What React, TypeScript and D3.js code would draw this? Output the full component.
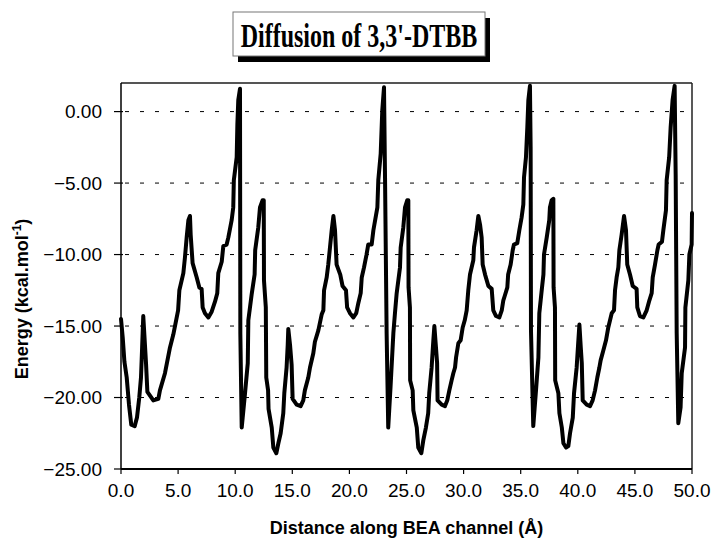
import React from "react";
import * as d3 from "d3";

const distance: number[] = [
  0, 0.15, 0.3, 0.5, 0.7, 0.9, 1.2, 1.4, 1.6, 1.75, 1.85, 1.95,
  2.19, 2.31, 2.83, 3.27, 3.41, 3.85, 4.29, 4.58, 5.0, 5.11, 5.46, 5.6, 5.75, 5.9, 6.04, 6.1, 6.27, 6.63, 6.86, 7.06, 7.15, 7.35, 7.65, 7.94, 8.23, 8.43, 8.52, 8.82, 8.96, 9.25, 9.4, 9.69, 9.83, 9.88, 10.13, 10.19, 10.27, 10.42,
  10.45, 10.57, 10.86, 11.1, 11.15, 11.44, 11.7, 11.75, 12.02, 12.17, 12.4, 12.5, 12.52, 12.68, 12.72, 12.88, 12.92, 13.2, 13.34, 13.6, 13.78, 13.98, 14.21, 14.3, 14.5, 14.6, 14.65, 14.8, 14.94, 15.03, 15.38, 15.73, 15.96, 16.1, 16.4, 16.55, 16.84, 16.98, 17.28, 17.57, 17.72, 17.78, 18.01, 18.15, 18.3, 18.45, 18.6, 18.74, 18.88, 19.2, 19.4, 19.7, 19.8, 20.05, 20.35, 20.6, 20.78, 20.99, 21.08, 21.28, 21.5, 21.65, 21.95, 22.1, 22.45, 22.53, 22.74, 22.88, 23.03,
  23.12, 23.26, 23.4, 23.6, 23.85, 23.99, 24.14, 24.43, 24.49, 24.72, 24.87, 25.07, 25.16, 25.18, 25.3, 25.32, 25.54, 25.6, 25.9, 26.03, 26.3, 26.47, 26.7, 26.9, 26.99, 27.2, 27.35, 27.44, 27.58, 27.68, 27.72, 28.08, 28.37, 28.57, 28.75, 28.95, 29.1, 29.25, 29.34, 29.54, 29.74, 29.92, 30.1, 30.27, 30.41, 30.56, 30.85, 30.91, 31.14, 31.29, 31.44, 31.58, 31.67, 31.88, 32.17, 32.46, 32.6, 32.84, 33.13, 33.34, 33.48, 33.6, 33.83, 33.9, 34.12, 34.3, 34.41, 34.7, 34.88, 35.08, 35.23, 35.29, 35.46, 35.58, 35.67, 35.81,
  35.87, 35.9, 36.1, 36.34, 36.55, 36.63, 36.84, 36.99, 37.04, 37.28, 37.5, 37.56, 37.71, 37.86, 37.88, 38.0, 38.02, 38.3, 38.39, 38.6, 38.74, 38.97, 39.17, 39.32, 39.56, 39.67, 39.9, 40.05, 40.14, 40.26, 40.35, 40.43, 40.78, 41.07, 41.3, 41.51, 41.71, 41.89, 42.0, 42.24, 42.47, 42.67, 42.97, 43.17, 43.26, 43.4, 43.55, 43.64, 43.84, 44.05, 44.22, 44.33, 44.57, 44.81, 45.15, 45.21, 45.44, 45.74, 46.03, 46.27, 46.47, 46.56, 46.76, 46.97, 47.08, 47.37, 47.49, 47.72, 47.78, 48.0, 48.13, 48.3, 48.48,
  48.57, 48.66, 48.8, 49.0, 49.1, 49.39, 49.42, 49.68, 49.77, 49.97, 50.0,
];

const energy: number[] = [
  -14.5, -15.8, -17.5, -18.6, -20.5, -21.9, -22.0, -21.4, -20.0, -18.6, -16.5, -14.3,
  -17.6, -19.6, -20.2, -20.1, -19.5, -18.3, -16.5, -15.6, -13.9, -12.5, -11.3, -10.2, -8.8, -7.6, -7.3, -8.6, -10.6, -11.6, -12.3, -12.4, -13.7, -14.1, -14.4, -14.0, -13.3, -12.7, -11.3, -10.5, -9.4, -9.3, -8.8, -7.6, -6.7, -4.8, -3.2, -0.9, 0.8, 1.6,
  -15.5, -22.1, -19.7, -17.6, -14.6, -12.8, -11.4, -9.7, -8.1, -6.7, -6.2, -6.2, -11.8, -13.7, -18.6, -19.5, -20.8, -22.1, -23.5, -23.9, -23.2, -22.5, -21.1, -19.7, -17.9, -16.3, -15.2, -16.3, -17.7, -20.1, -20.5, -20.6, -20.2, -19.5, -18.6, -17.9, -16.9, -16.1, -15.3, -14.2, -13.9, -12.5, -11.6, -10.7, -9.5, -8.3, -7.3, -8.3, -10.7, -11.4, -12.2, -12.5, -13.7, -14.1, -14.4, -14.1, -13.4, -12.7, -11.6, -10.9, -10.0, -9.3, -9.3, -8.3, -6.7, -4.8, -2.95, 0.1, 1.7,
  -4.6, -15.5, -22.1, -19.3, -15.5, -14.1, -12.7, -10.9, -9.5, -8.1, -6.7, -6.2, -6.2, -12.3, -13.7, -18.8, -19.5, -20.9, -22.1, -23.5, -23.9, -23.0, -22.1, -21.1, -19.7, -17.9, -16.0, -15.0, -16.5, -17.6, -20.2, -20.5, -20.6, -20.2, -19.5, -18.8, -18.3, -17.9, -17.2, -16.2, -16.0, -15.1, -14.6, -13.9, -12.5, -11.4, -10.4, -9.5, -8.3, -7.3, -7.9, -8.8, -10.7, -11.4, -12.2, -12.4, -13.9, -14.3, -14.4, -13.9, -13.2, -12.9, -12.3, -11.4, -10.7, -9.7, -9.3, -9.2, -8.3, -7.4, -6.5, -4.6, -3.2, -1.1, 0.8, 1.8,
  -2.5, -15.3, -22.0, -19.5, -17.2, -14.1, -12.5, -11.4, -10.0, -8.8, -7.6, -6.7, -6.2, -6.1, -12.3, -13.7, -18.8, -19.7, -21.1, -22.1, -23.2, -23.5, -23.4, -22.5, -21.4, -19.7, -17.9, -16.0, -14.9, -16.5, -17.6, -20.2, -20.5, -20.6, -20.2, -19.5, -18.6, -17.9, -17.4, -16.7, -16.0, -15.1, -14.1, -13.9, -12.5, -11.6, -10.9, -9.7, -8.6, -7.3, -8.3, -10.7, -11.4, -12.2, -12.4, -13.7, -14.3, -14.4, -13.9, -13.2, -12.7, -11.6, -10.7, -9.7, -9.3, -9.1, -8.3, -6.9, -4.8, -3.2, -1.1, 0.8, 1.8,
  -4.4, -15.5, -21.8, -20.7, -18.3, -16.5, -13.7, -11.8, -10.0, -9.3, -7.1,
];

const xTicks: number[] = [0, 5, 10, 15, 20, 25, 30, 35, 40, 45, 50];
const yTicks: number[] = [0, -5, -10, -15, -20, -25];

const chartTitle = "Diffusion of 3,3'-DTBB";
const xTitle = "Distance along BEA channel (Å)";

export default function App() {
  const W = 711, H = 544;
  const left = 121, right = 692, top = 83, bottom = 469;
  const x = d3.scaleLinear().domain([0, 50]).range([left, right]);
  const y = d3.scaleLinear().domain([-25, 2]).range([bottom, top]);
  const pts: [number, number][] = distance.map((d, i) => [d, energy[i]]);
  const line = d3.line<[number, number]>().x(d => x(d[0])).y(d => y(d[1]));
  const fmtY = d3.format(".2f");
  const fmtX = d3.format(".1f");
  const font = "'Liberation Sans', Arial, Helvetica, sans-serif";

  return (
    <svg width={W} height={H} style={{ position: "absolute", left: 0, top: 0, background: "#fff" }}>
      <rect x={0} y={0} width={W} height={H} fill="#fff" />
      {/* title box */}
      <rect x={238} y={18} width={252} height={44} fill="#000" />
      <rect x={233} y={12} width={252} height={44} fill="#fff" stroke="#777" strokeWidth={1} />
      <text transform="translate(359,47) scale(1,1.38)" textAnchor="middle" fontFamily="'Liberation Serif', 'Times New Roman', serif" fontWeight="bold" fontSize={24} fill="#000">{chartTitle}</text>

      {/* grid */}
      {yTicks.filter(t => t !== -25).map(t => (
        <line key={"g" + t} x1={left + 4} x2={right} y1={y(t)} y2={y(t)} stroke="#000" strokeWidth={1} strokeDasharray="4,11" />
      ))}

      {/* frame */}
      <line x1={left} x2={right} y1={top} y2={top} stroke="#555" strokeWidth={2} />
      <line x1={right} x2={right} y1={top} y2={bottom} stroke="#222" strokeWidth={1.5} />
      <line x1={left} x2={left} y1={top} y2={bottom} stroke="#000" strokeWidth={1.5} />
      <line x1={left} x2={right} y1={bottom} y2={bottom} stroke="#000" strokeWidth={2} />

      {/* y ticks */}
      {yTicks.map(t => (
        <g key={"y" + t}>
          <line x1={left - 7} x2={left + 2} y1={y(t)} y2={y(t)} stroke="#000" strokeWidth={1.2} />
          <text x={102} y={y(t)} dy="0.36em" textAnchor="end" fontFamily={font} fontSize={19} fill="#000">{fmtY(t)}</text>
        </g>
      ))}

      {/* x ticks */}
      {xTicks.map(t => (
        <g key={"x" + t}>
          <line x1={x(t)} x2={x(t)} y1={bottom} y2={bottom + 5} stroke="#000" strokeWidth={1.2} />
          <text x={x(t)} y={497} textAnchor="middle" fontFamily={font} fontSize={19} fill="#000">{fmtX(t)}</text>
        </g>
      ))}

      {/* axis titles */}
      <text x={(left + right) / 2} y={534} textAnchor="middle" fontFamily={font} fontSize={18} fontWeight="bold" fill="#000">{xTitle}</text>
      <text transform="translate(28,299) rotate(-90)" textAnchor="middle" fontFamily={font} fontSize={18} fontWeight="bold" fill="#000">
        Energy (kcal.mol<tspan dy="-7" fontSize={12}>-1</tspan><tspan dy="7">)</tspan>
      </text>

      {/* data line */}
      <path d={line(pts) ?? ""} fill="none" stroke="#000" strokeWidth={4} strokeLinejoin="round" strokeLinecap="round" />
    </svg>
  );
}
